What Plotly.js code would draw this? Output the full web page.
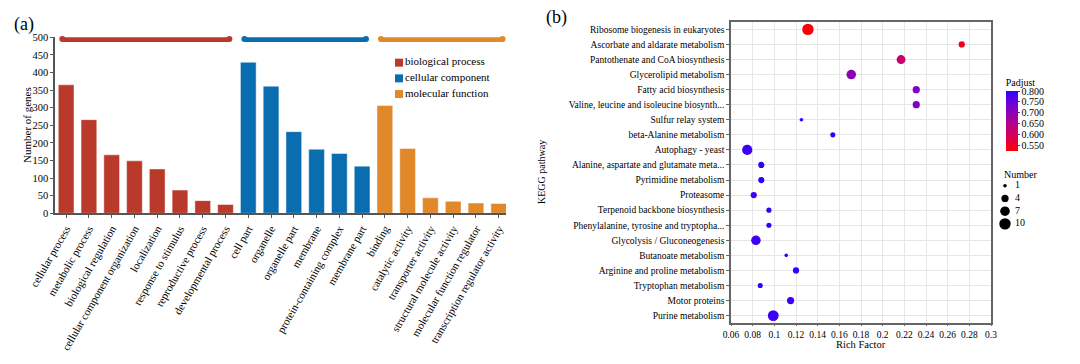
<!DOCTYPE html>
<html>
<head>
<meta charset="utf-8">
<script src="https://cdn.plot.ly/plotly-3.0.1.min.js"></script>
<style>html,body{margin:0;padding:0;background:#fff;}#chart{width:1080px;height:364px;}</style>
</head>
<body>
<div id="chart"></div>
<script>
// ---------- Panel (a): GO classification ----------
const bpTerms = ["cellular process","metabolic process","biological regulation","cellular component organization","localization","response to stimulus","reproductive process","developmental process"];
const bpGenes = [365, 266, 166, 149, 126, 66, 36, 25];
const ccTerms = ["cell part","organelle","organelle part","membrane","protein-containing complex","membrane part"];
const ccGenes = [429, 361, 232, 182, 170, 134];
const mfTerms = ["binding","catalytic activity","transporter activity","structural molecule activity","molecular function regulator","transcription regulator activity"];
const mfGenes = [306, 184, 44, 34, 29, 28];
const groupNames = ["biological process","cellular component","molecular function"];
const groupColors = ["#B93A2A","#0A6DB0","#E0882A"];

// ---------- Panel (b): KEGG enrichment ----------
const pathways = ["Ribosome biogenesis in eukaryotes","Ascorbate and aldarate metabolism","Pantothenate and CoA biosynthesis","Glycerolipid metabolism","Fatty acid biosynthesis","Valine, leucine and isoleucine biosynth...","Sulfur relay system","beta-Alanine metabolism","Autophagy - yeast","Alanine, aspartate and glutamate meta...","Pyrimidine metabolism","Proteasome","Terpenoid backbone biosynthesis","Phenylalanine, tyrosine and tryptopha...","Glycolysis / Gluconeogenesis","Butanoate metabolism","Arginine and proline metabolism","Tryptophan metabolism","Motor proteins","Purine metabolism"];
const richFactor = [0.131, 0.273, 0.217, 0.171, 0.231, 0.231, 0.125, 0.154, 0.075, 0.088, 0.088, 0.081, 0.095, 0.095, 0.083, 0.111, 0.120, 0.087, 0.115, 0.099];
const geneNumber = [10, 3, 6, 7, 4, 4, 1, 2, 8, 3, 3, 3, 2, 2, 7, 1, 3, 2, 4, 9];
const padjust = [0.53, 0.55, 0.62, 0.70, 0.72, 0.72, 0.80, 0.80, 0.79, 0.80, 0.80, 0.79, 0.80, 0.80, 0.79, 0.80, 0.80, 0.80, 0.79, 0.79];
const sizeLegendValues = [1, 4, 7, 10];

const FONT = "Liberation Serif, Times New Roman, serif";
const W = 1080, H = 364;
const px = v => v / W;
const py = v => 1 - v / H;

const groups = [
  {terms: bpTerms, genes: bpGenes},
  {terms: ccTerms, genes: ccGenes},
  {terms: mfTerms, genes: mfGenes}
];
const allTerms = [].concat(bpTerms, ccTerms, mfTerms);

const traces = [];
let offset = 0;
groups.forEach((g, gi) => {
  const xs = g.terms.map((_, i) => offset + i);
  traces.push({
    type: "bar", x: xs, y: g.genes, name: groupNames[gi],
    width: 0.69,
    marker: {color: groupColors[gi], line: {color: "rgba(255,255,255,0.45)", width: 1}},
    xaxis: "x", yaxis: "y", hoverinfo: "x+y", showlegend: false
  });
  // group bracket line on top
  const x0 = offset - 0.17, x1 = offset + g.terms.length - 1 + 0.17;
  traces.push({
    type: "scatter", mode: "lines+markers", x: [x0, x1], y: [495, 495],
    line: {color: groupColors[gi], width: 6},
    marker: {color: groupColors[gi], size: 6, symbol: "circle", opacity: 1},
    showlegend: false, hoverinfo: "skip", cliponaxis: false,
    xaxis: "x", yaxis: "y"
  });
  offset += g.terms.length;
});

// custom legend for panel (a)
traces.push({
  type: "scatter", mode: "markers+text",
  x: groupNames.map(() => 0), y: groupNames.map((_, i) => i),
  text: groupNames, textposition: "middle right",
  textfont: {family: FONT, size: 11, color: "#000"},
  marker: {symbol: "square", size: 8, color: groupColors, opacity: 1, line: {width: 0}},
  xaxis: "x4", yaxis: "y4", showlegend: false, hoverinfo: "skip", cliponaxis: false
});

// colour scale red -> blue (purple through middle)
const cscale = [[0, "rgb(255,0,0)"], [0.25, "rgb(215,0,85)"], [0.5, "rgb(170,0,150)"], [0.75, "rgb(120,0,205)"], [1, "rgb(50,0,255)"]];
const SIZEREF = 2 / 13;

traces.push({
  type: "scatter", mode: "markers",
  x: richFactor, y: pathways,
  xaxis: "x2", yaxis: "y2",
  marker: {
    size: geneNumber, sizemode: "area", sizeref: SIZEREF, sizemin: 1, opacity: 1,
    color: padjust, cmin: 0.523, cmax: 0.80, colorscale: cscale,
    line: {width: 0},
    colorbar: {
      title: {text: "Padjust", side: "top", font: {family: FONT, size: 10, color: "#000"}},
      x: px(1005.7), xanchor: "left", xpad: 0, ypad: 0,
      y: py(75), yanchor: "top", lenmode: "pixels", len: 76,
      thickness: 11.6, thicknessmode: "pixels", outlinewidth: 0,
      tickvals: [0.55, 0.60, 0.65, 0.70, 0.75, 0.80], tickformat: ".3f",
      ticks: "outside", ticklen: 2, tickcolor: "#444",
      tickfont: {family: FONT, size: 10, color: "#000"}
    }
  },
  showlegend: false, cliponaxis: false,
  hovertemplate: "%{y}<br>Rich Factor: %{x}<br>Number: %{marker.size}<extra></extra>"
});

// size legend (Number)
traces.push({
  type: "scatter", mode: "markers",
  x: sizeLegendValues.map(() => 0), y: sizeLegendValues.map((_, i) => i),
  xaxis: "x3", yaxis: "y3",
  marker: {size: sizeLegendValues, sizemode: "area", sizeref: SIZEREF, color: "#000", opacity: 1, line: {width: 0}},
  showlegend: false, hoverinfo: "skip", cliponaxis: false
});
traces.push({
  type: "scatter", mode: "text",
  x: sizeLegendValues.map(() => 1), y: sizeLegendValues.map((_, i) => i),
  text: sizeLegendValues.map(String), textposition: "middle right",
  textfont: {family: FONT, size: 10, color: "#000"},
  xaxis: "x3", yaxis: "y3",
  showlegend: false, hoverinfo: "skip", cliponaxis: false
});

const n = allTerms.length;
const layout = {
  width: W, height: H, autosize: false,
  margin: {l: 0, r: 0, t: 0, b: 0, pad: 0},
  paper_bgcolor: "#fff", plot_bgcolor: "rgba(0,0,0,0)",
  font: {family: FONT, color: "#000", size: 10},
  showlegend: false,
  xaxis: {
    domain: [px(55), px(506)], anchor: "y",
    range: [-0.49, n - 1 + 0.32],
    tickvals: allTerms.map((_, i) => i), ticktext: allTerms,
    tickangle: -60, tickfont: {family: FONT, size: 11, color: "#000"},
    ticks: "outside", ticklen: 3, tickcolor: "#555",
    showline: true, linecolor: "#555", linewidth: 1.5,
    showgrid: false, zeroline: false, fixedrange: true
  },
  yaxis: {
    domain: [py(213.3), py(37.3)], anchor: "x",
    range: [0, 500], dtick: 50,
    tickfont: {family: FONT, size: 10.5, color: "#000"},
    ticks: "outside", ticklen: 3, tickcolor: "#555",
    showline: true, linecolor: "#555", linewidth: 1.5,
    showgrid: false, zeroline: false, fixedrange: true
  },
  xaxis2: {
    domain: [px(731), px(991)], anchor: "y2",
    range: [0.06, 0.3], dtick: 0.02, tick0: 0.06,
    tickfont: {family: FONT, size: 9.5, color: "#000"},
    ticks: "outside", ticklen: 2, tickcolor: "#666",
    showline: true, mirror: true, linecolor: "#666", linewidth: 1.5,
    showgrid: true, gridcolor: "#e6e6e6", gridwidth: 1, zeroline: false
  },
  yaxis2: {
    domain: [py(322.7), py(22.3)], anchor: "x2",
    type: "category", categoryorder: "array", categoryarray: pathways,
    range: [pathways.length - 0.53, -0.47],
    tickfont: {family: FONT, size: 9.5, color: "#000"},
    ticks: "outside", ticklen: 3, tickcolor: "#666",
    showline: true, mirror: true, linecolor: "#666", linewidth: 1.5,
    showgrid: true, gridcolor: "#e6e6e6", gridwidth: 1, zeroline: false
  },
  xaxis3: {
    domain: [px(995), px(1035)], anchor: "y3", range: [-1, 3],
    visible: false, fixedrange: true
  },
  yaxis3: {
    domain: [py(230.2), py(179.4)], anchor: "x3", range: [3.5, -0.5],
    visible: false, fixedrange: true
  },
  xaxis4: {
    domain: [px(389), px(509)], anchor: "y4", range: [-1, 11],
    visible: false, fixedrange: true
  },
  yaxis4: {
    domain: [py(101.9), py(54.8)], anchor: "x4", range: [2.5, -0.5],
    visible: false, fixedrange: true
  },
  annotations: [
    {text: "(a)", x: px(12), y: py(25), xref: "paper", yref: "paper", xanchor: "left", yanchor: "middle", showarrow: false, font: {family: FONT, size: 18, color: "#000"}},
    {text: "(b)", x: px(544), y: py(17), xref: "paper", yref: "paper", xanchor: "left", yanchor: "middle", showarrow: false, font: {family: FONT, size: 18, color: "#000"}},
    {text: "Number of genes", x: px(27), y: py(125), xref: "paper", yref: "paper", xanchor: "center", yanchor: "middle", textangle: -90, showarrow: false, font: {family: FONT, size: 11, color: "#000"}},
    {text: "KEGG pathway", x: px(541), y: py(172), xref: "paper", yref: "paper", xanchor: "center", yanchor: "middle", textangle: -90, showarrow: false, font: {family: FONT, size: 10, color: "#000"}},
    {text: "Rich Factor", x: px(861), y: py(344), xref: "paper", yref: "paper", xanchor: "center", yanchor: "middle", showarrow: false, font: {family: FONT, size: 10.5, color: "#000"}},
    {text: "Number", x: px(1002), y: py(174), xref: "paper", yref: "paper", xanchor: "left", yanchor: "middle", showarrow: false, font: {family: FONT, size: 10, color: "#000"}}
  ]
};

Plotly.newPlot("chart", traces, layout, {displayModeBar: false});
</script>
</body>
</html>
